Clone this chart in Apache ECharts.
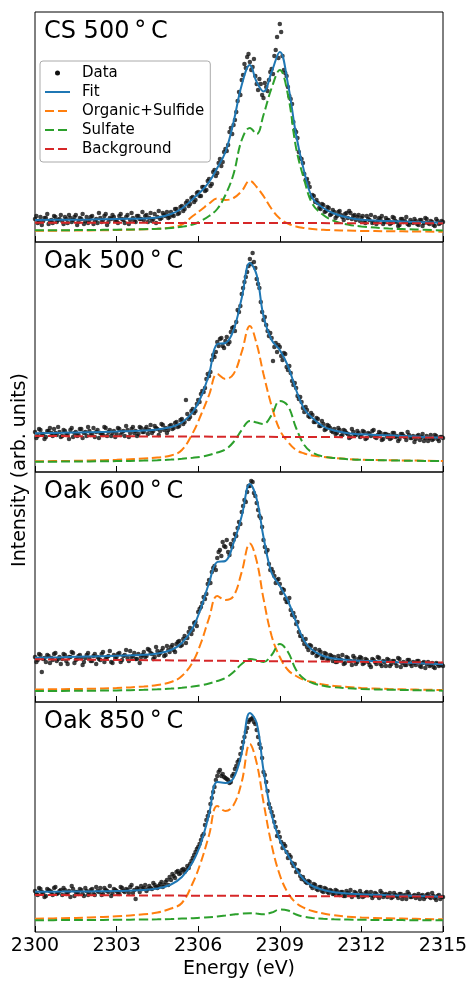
<!DOCTYPE html>
<html>
<head>
<meta charset="utf-8">
<script src="https://cdn.jsdelivr.net/npm/echarts@6/dist/echarts.min.js"></script>
<style>
html, body { margin: 0; padding: 0; background: #fff; }
#chart { width: 468px; height: 981px; }
</style>
</head>
<body>
<div id="chart"></div>
<script>
// x axis
var energyMin = 2300, energyMax = 2315, energyTick = 3;
var panelTitles = ['CS 500\u2009°\u2009C', 'Oak 500\u2009°\u2009C', 'Oak 600\u2009°\u2009C', 'Oak 850\u2009°\u2009C'];

// measured points: one every 0.1 eV from 2300, and the ones in between (from 2300.05)
var scanStart = 2300, scanStep = 0.1, scanStartB = 2300.05;

var data_cs500 = [
	0.23, 0.19, 0.25, 0.21, 0.24, 0.18, 0.22, 0.26, 0.20, 0.23,
	0.21, 0.25, 0.19, 0.24, 0.22, 0.27, 0.20, 0.23, 0.18, 0.25,
	0.22, 0.26, 0.21, 0.19, 0.24, 0.22, 0.28, 0.20, 0.23, 0.25,
	0.21, 0.26, 0.23, 0.19, 0.27, 0.22, 0.24, 0.20, 0.26, 0.23,
	0.22, 0.27, 0.24, 0.21, 0.28, 0.25, 0.23, 0.29, 0.26, 0.24,
	0.30, 0.26, 0.33, 0.29, 0.36, 0.33, 0.41, 0.38, 0.45, 0.42,
	0.50, 0.46, 0.55, 0.52, 0.63, 0.58, 0.72, 0.69, 0.83, 0.80,
	0.93, 0.97, 1.14, 1.17, 1.30, 1.50, 1.62, 1.78, 1.85, 1.80,
	1.75, 1.66, 1.52, 1.58, 1.44, 1.55, 1.62, 1.73, 1.86, 2.05,
	2.18, 1.86, 1.69, 1.55, 1.43, 1.20, 1.10, 0.90, 0.83, 0.68,
	0.63, 0.55, 0.47, 0.40, 0.39, 0.33, 0.37, 0.31, 0.34, 0.28,
	0.30, 0.26, 0.31, 0.25, 0.28, 0.24, 0.29, 0.26, 0.22, 0.27,
	0.24, 0.20, 0.26, 0.22, 0.19, 0.25, 0.21, 0.23, 0.18, 0.24,
	0.22, 0.19, 0.24, 0.20, 0.17, 0.23, 0.21, 0.18, 0.22, 0.19,
	0.21, 0.17, 0.22, 0.19, 0.23, 0.18, 0.20, 0.16, 0.21, 0.19, 0.20
];
var dataB_cs500 = [
	0.26, 0.20, 0.17, 0.24, 0.28, 0.21, 0.19, 0.25, 0.22, 0.27,
	0.18, 0.23, 0.27, 0.20, 0.25, 0.17, 0.24, 0.28, 0.21, 0.19,
	0.25, 0.18, 0.23, 0.29, 0.20, 0.26, 0.17, 0.24, 0.27, 0.21,
	0.19, 0.28, 0.22, 0.25, 0.18, 0.29, 0.21, 0.26, 0.23, 0.30,
	0.26, 0.20, 0.29, 0.23, 0.19, 0.31, 0.24, 0.27, 0.30, 0.25,
	0.27, 0.33, 0.28, 0.35, 0.31, 0.39, 0.36, 0.44, 0.40, 0.49,
	0.46, 0.55, 0.51, 0.61, 0.56, 0.70, 0.66, 0.79, 0.76, 0.90,
	0.91, 1.10, 1.08, 1.22, 1.41, 1.47, 1.67, 1.74, 1.88, 1.72,
	1.83, 1.58, 1.63, 1.47, 1.59, 1.51, 1.70, 1.68, 1.92, 1.84,
	2.10, 1.72, 1.66, 1.46, 1.38, 1.12, 1.04, 0.84, 0.79, 0.62,
	0.59, 0.45, 0.46, 0.42, 0.34, 0.38, 0.30, 0.35, 0.27, 0.32,
	0.24, 0.30, 0.27, 0.22, 0.29, 0.31, 0.23, 0.27, 0.25, 0.21,
	0.26, 0.19, 0.23, 0.27, 0.20, 0.18, 0.24, 0.26, 0.20, 0.22,
	0.18, 0.25, 0.21, 0.16, 0.23, 0.20, 0.25, 0.17, 0.20, 0.23,
	0.18, 0.22, 0.16, 0.24, 0.19, 0.21, 0.17, 0.23, 0.18, 0.21
];
var data_oak500 = [
	0.40, 0.36, 0.42, 0.38, 0.35, 0.41, 0.39, 0.43, 0.37, 0.40,
	0.36, 0.41, 0.38, 0.42, 0.35, 0.40, 0.37, 0.43, 0.39, 0.36,
	0.41, 0.38, 0.35, 0.42, 0.39, 0.37, 0.44, 0.40, 0.36, 0.41,
	0.38, 0.43, 0.40, 0.36, 0.42, 0.39, 0.45, 0.41, 0.38, 0.44,
	0.40, 0.45, 0.42, 0.39, 0.46, 0.43, 0.41, 0.47, 0.44, 0.42,
	0.47, 0.44, 0.50, 0.46, 0.53, 0.50, 0.58, 0.55, 0.63, 0.61,
	0.72, 0.78, 0.80, 0.93, 0.96, 1.12, 1.15, 1.30, 1.33, 1.26,
	1.31, 1.28, 1.40, 1.45, 1.50, 1.60, 1.78, 1.90, 2.00, 2.13,
	2.19, 2.04, 1.88, 1.70, 1.52, 1.47, 1.36, 1.34, 1.25, 1.20,
	1.25, 1.12, 1.18, 1.02, 0.99, 0.87, 0.84, 0.73, 0.70, 0.60,
	0.62, 0.55, 0.57, 0.50, 0.53, 0.46, 0.48, 0.43, 0.46, 0.41,
	0.43, 0.39, 0.42, 0.37, 0.41, 0.38, 0.35, 0.40, 0.37, 0.39,
	0.36, 0.40, 0.34, 0.38, 0.41, 0.35, 0.37, 0.39, 0.33, 0.38,
	0.37, 0.34, 0.39, 0.36, 0.33, 0.38, 0.35, 0.40, 0.34, 0.36,
	0.33, 0.37, 0.35, 0.31, 0.36, 0.34, 0.32, 0.37, 0.33, 0.35, 0.34
];
var dataB_oak500 = [
	0.34, 0.43, 0.38, 0.33, 0.41, 0.44, 0.36, 0.39, 0.45, 0.35,
	0.42, 0.37, 0.33, 0.44, 0.39, 0.36, 0.43, 0.34, 0.40, 0.45,
	0.37, 0.44, 0.40, 0.34, 0.38, 0.45, 0.36, 0.42, 0.39, 0.35,
	0.44, 0.37, 0.41, 0.46, 0.35, 0.43, 0.39, 0.36, 0.45, 0.40,
	0.43, 0.38, 0.47, 0.41, 0.44, 0.37, 0.48, 0.42, 0.39, 0.46,
	0.43, 0.49, 0.45, 0.52, 0.48, 0.72, 0.53, 0.61, 0.59, 0.68,
	0.70, 0.81, 0.84, 0.98, 1.00, 1.17, 1.20, 1.26, 1.34, 1.24,
	1.35, 1.30, 1.44, 1.41, 1.62, 1.66, 1.84, 1.95, 2.06, 2.08,
	2.10, 1.93, 1.84, 1.60, 1.55, 1.41, 1.39, 1.11, 1.29, 1.27,
	1.16, 1.19, 1.05, 1.06, 0.91, 0.89, 0.76, 0.75, 0.64, 0.65,
	0.56, 0.59, 0.50, 0.54, 0.46, 0.51, 0.42, 0.47, 0.44, 0.40,
	0.38, 0.44, 0.36, 0.42, 0.39, 0.34, 0.43, 0.37, 0.41, 0.35,
	0.41, 0.33, 0.39, 0.36, 0.42, 0.34, 0.40, 0.32, 0.38, 0.35,
	0.33, 0.39, 0.35, 0.31, 0.38, 0.36, 0.32, 0.37, 0.34, 0.30,
	0.36, 0.32, 0.38, 0.34, 0.31, 0.37, 0.33, 0.36, 0.31, 0.35
];
var data_oak600 = [
	0.45, 0.42, 0.47, 0.43, 0.40, 0.46, 0.44, 0.48, 0.41, 0.45,
	0.43, 0.47, 0.38, 0.45, 0.49, 0.42, 0.46, 0.44, 0.40, 0.47,
	0.44, 0.41, 0.48, 0.45, 0.42, 0.50, 0.43, 0.46, 0.40, 0.47,
	0.45, 0.49, 0.42, 0.47, 0.44, 0.51, 0.46, 0.43, 0.48, 0.45,
	0.50, 0.46, 0.52, 0.48, 0.45, 0.51, 0.49, 0.54, 0.47, 0.52,
	0.55, 0.52, 0.58, 0.61, 0.57, 0.66, 0.64, 0.74, 0.72, 0.80,
	0.90, 0.95, 1.05, 1.08, 1.22, 1.30, 1.36, 1.44, 1.52, 1.60,
	1.55, 1.50, 1.58, 1.62, 1.66, 1.80, 1.90, 2.02, 2.10, 2.16,
	2.20, 2.06, 1.92, 1.84, 1.62, 1.50, 1.38, 1.33, 1.26, 1.22,
	1.18, 1.13, 1.03, 1.00, 0.92, 0.89, 0.78, 0.70, 0.66, 0.58,
	0.55, 0.57, 0.49, 0.53, 0.47, 0.50, 0.44, 0.48, 0.43, 0.46,
	0.45, 0.40, 0.43, 0.47, 0.39, 0.44, 0.41, 0.46, 0.38, 0.43,
	0.44, 0.39, 0.42, 0.37, 0.43, 0.40, 0.45, 0.38, 0.41, 0.36,
	0.42, 0.38, 0.41, 0.36, 0.43, 0.39, 0.37, 0.42, 0.38, 0.40,
	0.37, 0.41, 0.35, 0.40, 0.38, 0.36, 0.39, 0.34, 0.38, 0.37, 0.36
];
var dataB_oak600 = [
	0.40, 0.48, 0.30, 0.44, 0.47, 0.39, 0.42, 0.49, 0.43, 0.38,
	0.48, 0.41, 0.45, 0.50, 0.39, 0.43, 0.47, 0.37, 0.44, 0.49,
	0.41, 0.46, 0.38, 0.43, 0.48, 0.40, 0.45, 0.51, 0.39, 0.44,
	0.48, 0.40, 0.46, 0.52, 0.41, 0.45, 0.49, 0.43, 0.39, 0.47,
	0.45, 0.53, 0.49, 0.43, 0.55, 0.47, 0.51, 0.46, 0.56, 0.50,
	0.57, 0.50, 0.60, 0.56, 0.63, 0.59, 0.70, 0.68, 0.79, 0.76,
	0.93, 0.99, 1.03, 1.18, 1.19, 1.34, 1.32, 1.50, 1.46, 1.56,
	1.62, 1.47, 1.55, 1.68, 1.74, 1.78, 1.96, 2.00, 2.16, 2.21,
	2.09, 1.99, 1.86, 1.75, 1.55, 1.52, 1.32, 1.30, 1.19, 1.23,
	1.09, 1.12, 1.00, 1.04, 0.87, 0.85, 0.80, 0.66, 0.62, 0.63,
	0.52, 0.56, 0.50, 0.46, 0.52, 0.44, 0.49, 0.42, 0.47, 0.41,
	0.40, 0.46, 0.42, 0.38, 0.45, 0.41, 0.37, 0.44, 0.40, 0.45,
	0.38, 0.43, 0.40, 0.35, 0.42, 0.38, 0.44, 0.36, 0.40, 0.43,
	0.36, 0.41, 0.39, 0.44, 0.35, 0.40, 0.37, 0.42, 0.36, 0.39,
	0.41, 0.36, 0.39, 0.34, 0.40, 0.37, 0.35, 0.39, 0.36, 0.38
];
var data_oak850 = [
	0.41, 0.37, 0.43, 0.39, 0.36, 0.42, 0.40, 0.44, 0.38, 0.41,
	0.37, 0.42, 0.39, 0.35, 0.43, 0.40, 0.38, 0.42, 0.36, 0.41,
	0.39, 0.43, 0.37, 0.41, 0.44, 0.38, 0.42, 0.40, 0.36, 0.43,
	0.41, 0.38, 0.44, 0.40, 0.42, 0.45, 0.39, 0.33, 0.43, 0.46,
	0.44, 0.41, 0.46, 0.43, 0.47, 0.44, 0.48, 0.45, 0.50, 0.47,
	0.52, 0.56, 0.60, 0.58, 0.62, 0.60, 0.66, 0.68, 0.74, 0.80,
	0.85, 0.92, 0.98, 1.12, 1.20, 1.34, 1.45, 1.56, 1.62, 1.58,
	1.54, 1.52, 1.50, 1.58, 1.66, 1.72, 1.84, 1.95, 2.04, 2.12,
	2.14, 2.08, 1.95, 1.84, 1.60, 1.50, 1.28, 1.20, 1.10, 0.96,
	0.95, 0.84, 0.86, 0.74, 0.75, 0.66, 0.60, 0.61, 0.53, 0.52,
	0.49, 0.50, 0.44, 0.47, 0.42, 0.45, 0.40, 0.43, 0.39, 0.41,
	0.38, 0.41, 0.37, 0.40, 0.36, 0.39, 0.42, 0.37, 0.39, 0.35,
	0.38, 0.36, 0.40, 0.37, 0.34, 0.39, 0.36, 0.41, 0.35, 0.38,
	0.37, 0.34, 0.39, 0.36, 0.38, 0.33, 0.37, 0.40, 0.35, 0.36,
	0.34, 0.38, 0.36, 0.33, 0.37, 0.35, 0.39, 0.34, 0.36, 0.33, 0.35
];
var dataB_oak850 = [
	0.38, 0.44, 0.40, 0.35, 0.43, 0.41, 0.37, 0.45, 0.39, 0.42,
	0.44, 0.38, 0.41, 0.46, 0.36, 0.40, 0.43, 0.38, 0.44, 0.37,
	0.42, 0.38, 0.45, 0.40, 0.37, 0.44, 0.41, 0.46, 0.39, 0.42,
	0.38, 0.45, 0.41, 0.43, 0.39, 0.47, 0.42, 0.44, 0.40, 0.43,
	0.47, 0.43, 0.44, 0.49, 0.45, 0.46, 0.50, 0.47, 0.52, 0.55,
	0.58, 0.54, 0.61, 0.59, 0.63, 0.62, 0.64, 0.71, 0.77, 0.83,
	0.88, 0.96, 1.07, 1.16, 1.28, 1.40, 1.52, 1.60, 1.56, 1.55,
	1.53, 1.49, 1.56, 1.63, 1.70, 1.78, 1.90, 2.00, 2.10, 2.13,
	2.10, 2.02, 1.88, 1.74, 1.57, 1.41, 1.24, 1.16, 1.05, 1.00,
	0.90, 0.88, 0.80, 0.77, 0.69, 0.68, 0.62, 0.56, 0.55, 0.50,
	0.51, 0.46, 0.48, 0.43, 0.45, 0.41, 0.44, 0.40, 0.42, 0.38,
	0.42, 0.38, 0.40, 0.36, 0.41, 0.38, 0.35, 0.40, 0.37, 0.41,
	0.35, 0.39, 0.37, 0.40, 0.36, 0.38, 0.34, 0.39, 0.37, 0.35,
	0.39, 0.35, 0.37, 0.34, 0.38, 0.36, 0.33, 0.38, 0.35, 0.37,
	0.36, 0.33, 0.37, 0.35, 0.38, 0.34, 0.36, 0.32, 0.37, 0.35
];

// fitted curves, sampled at these energies
var curveE = [2300, 2301, 2302, 2303, 2304, 2304.5, 2305, 2305.4, 2305.8, 2306.1, 2306.4, 2306.7,
	2307.0, 2307.3, 2307.6, 2307.9, 2308.15, 2308.4, 2308.7, 2309.0, 2309.3, 2309.6, 2309.9,
	2310.2, 2310.6, 2311, 2311.5, 2312, 2313, 2314, 2315];
var bgE = [2300, 2315];

var fit_cs500 = [0.22, 0.222, 0.225, 0.23, 0.235, 0.245, 0.28, 0.335, 0.43, 0.505, 0.60, 0.74, 0.90, 1.20, 1.57, 1.77,
	1.60, 1.505, 1.70, 1.90, 1.58, 1.07, 0.70, 0.44, 0.34, 0.285, 0.245, 0.222, 0.21, 0.20, 0.193];
var org_cs500 = [0.113, 0.114, 0.116, 0.12, 0.127, 0.133, 0.145, 0.175, 0.26, 0.32, 0.385, 0.435, 0.42, 0.44, 0.51, 0.613,
	0.55, 0.46, 0.33, 0.235, 0.185, 0.155, 0.14, 0.13, 0.122, 0.118, 0.114, 0.111, 0.108, 0.105, 0.103];
var sulf_cs500 = [0.117, 0.118, 0.12, 0.123, 0.128, 0.132, 0.14, 0.152, 0.175, 0.21, 0.26, 0.33, 0.47, 0.68, 1.02, 1.14,
	1.08, 1.27, 1.54, 1.72, 1.47, 0.94, 0.62, 0.38, 0.27, 0.21, 0.175, 0.155, 0.135, 0.125, 0.115];
var bg_cs500 = [0.193, 0.187];

var fit_oak500 = [0.387, 0.392, 0.398, 0.405, 0.415, 0.425, 0.45, 0.495, 0.60, 0.75, 0.98, 1.28, 1.29, 1.42, 1.74, 2.09,
	1.97, 1.56, 1.32, 1.22, 1.06, 0.82, 0.63, 0.54, 0.455, 0.415, 0.387, 0.377, 0.367, 0.355, 0.343];
var org_oak500 = [0.107, 0.11, 0.115, 0.122, 0.135, 0.145, 0.165, 0.22, 0.39, 0.57, 0.77, 0.98, 0.93, 0.98, 1.20, 1.46,
	1.28, 0.98, 0.66, 0.42, 0.30, 0.22, 0.185, 0.165, 0.15, 0.14, 0.13, 0.124, 0.118, 0.114, 0.11];
var sulf_oak500 = [0.103, 0.104, 0.106, 0.109, 0.114, 0.118, 0.124, 0.132, 0.142, 0.152, 0.17, 0.195, 0.225, 0.30, 0.42, 0.51,
	0.495, 0.48, 0.57, 0.71, 0.66, 0.44, 0.27, 0.195, 0.155, 0.14, 0.128, 0.122, 0.116, 0.112, 0.11];
var bg_oak500 = [0.36, 0.345];

var fit_oak600 = [0.443, 0.448, 0.455, 0.462, 0.472, 0.485, 0.52, 0.59, 0.74, 0.94, 1.19, 1.40, 1.41, 1.59, 1.86, 2.18,
	2.03, 1.65, 1.29, 1.16, 1.01, 0.80, 0.61, 0.52, 0.46, 0.435, 0.42, 0.412, 0.402, 0.39, 0.377];
var org_oak600 = [0.125, 0.128, 0.132, 0.14, 0.155, 0.17, 0.20, 0.26, 0.40, 0.59, 0.84, 1.06, 1.02, 1.06, 1.30, 1.585,
	1.41, 1.035, 0.66, 0.45, 0.32, 0.26, 0.22, 0.20, 0.175, 0.16, 0.15, 0.14, 0.13, 0.124, 0.12];
var sulf_oak600 = [0.11, 0.111, 0.113, 0.116, 0.122, 0.127, 0.134, 0.142, 0.154, 0.167, 0.185, 0.21, 0.24, 0.30, 0.38, 0.43,
	0.42, 0.40, 0.47, 0.58, 0.50, 0.32, 0.23, 0.19, 0.162, 0.147, 0.137, 0.13, 0.123, 0.118, 0.113];
var bg_oak600 = [0.427, 0.395];

var fit_oak850 = [0.403, 0.404, 0.406, 0.41, 0.42, 0.435, 0.475, 0.55, 0.70, 0.89, 1.18, 1.50, 1.49, 1.54, 1.79, 2.19,
	2.09, 1.62, 1.17, 0.92, 0.77, 0.63, 0.52, 0.46, 0.42, 0.397, 0.385, 0.378, 0.368, 0.36, 0.353];
var org_oak850 = [0.133, 0.138, 0.145, 0.157, 0.177, 0.195, 0.235, 0.29, 0.49, 0.70, 0.97, 1.26, 1.21, 1.27, 1.50, 1.88,
	1.69, 1.30, 0.87, 0.57, 0.39, 0.29, 0.24, 0.21, 0.185, 0.167, 0.153, 0.145, 0.137, 0.132, 0.127];
var sulf_oak850 = [0.118, 0.119, 0.12, 0.122, 0.125, 0.127, 0.13, 0.134, 0.138, 0.142, 0.148, 0.155, 0.164, 0.175, 0.184, 0.188,
	0.184, 0.178, 0.195, 0.225, 0.215, 0.175, 0.152, 0.14, 0.132, 0.127, 0.124, 0.122, 0.12, 0.118, 0.117];
var bg_oak850 = [0.37, 0.353];

var panels = [
	{ data: data_cs500, dataB: dataB_cs500, fit: fit_cs500, org: org_cs500, sulf: sulf_cs500, bg: bg_cs500 },
	{ data: data_oak500, dataB: dataB_oak500, fit: fit_oak500, org: org_oak500, sulf: sulf_oak500, bg: bg_oak500 },
	{ data: data_oak600, dataB: dataB_oak600, fit: fit_oak600, org: org_oak600, sulf: sulf_oak600, bg: bg_oak600 },
	{ data: data_oak850, dataB: dataB_oak850, fit: fit_oak850, org: org_oak850, sulf: sulf_oak850, bg: bg_oak850 }
];

var font = 'DejaVu Sans';
var gridTop = [12, 242, 472, 702];
var dash = [9, 4];

function pairs(xs, ys) {
	return ys.map(function(v, i) { return [xs[i], v]; });
}
function scanPoints(ys, start) {
	return ys.map(function(v, i) { return [+(start + i * scanStep).toFixed(2), v]; });
}

var chart = echarts.init(document.getElementById('chart'));

var grids = [], xAxes = [], yAxes = [], series = [], titles = [];
panels.forEach(function(p, i) {
	grids.push({
		left: 35, right: 25, top: gridTop[i], height: 230, show: true,
		borderColor: '#000', borderWidth: 1, outerBoundsMode: 'none', containLabel: false
	});
	xAxes.push({
		type: 'value', gridIndex: i, min: energyMin, max: energyMax, interval: energyTick,
		axisLine: { show: false },
		axisTick: { show: true, inside: true, length: 6, lineStyle: { color: '#000', width: 1 } },
		axisLabel: {
			show: i == 3, fontSize: 19, color: '#000', margin: 5, fontFamily: font,
			formatter: function(v) { return String(v); }
		},
		splitLine: { show: false },
		name: i == 3 ? 'Energy (eV)' : '',
		nameLocation: 'middle', nameGap: 28,
		nameTextStyle: { fontSize: 19, color: '#000', fontFamily: font }
	});
	yAxes.push({ type: 'value', gridIndex: i, min: 0, max: 2.3, show: false });
	titles.push({
		text: panelTitles[i], left: 44, top: gridTop[i] + 8, padding: 0,
		textStyle: { fontSize: 24, fontWeight: 'normal', color: '#000', fontFamily: font }
	});

	series.push({
		name: 'Data', type: 'scatter', xAxisIndex: i, yAxisIndex: i,
		data: scanPoints(p.data, scanStart).concat(scanPoints(p.dataB, scanStartB)),
		symbolSize: 4.5, itemStyle: { color: '#111' }, z: 2
	});
	series.push({
		name: 'Fit', type: 'line', xAxisIndex: i, yAxisIndex: i, data: pairs(curveE, p.fit),
		smooth: 0.4, symbol: 'none', lineStyle: { color: '#1f77b4', width: 2 }, itemStyle: { color: '#1f77b4' }, z: 3
	});
	series.push({
		name: 'Organic+Sulfide', type: 'line', xAxisIndex: i, yAxisIndex: i, data: pairs(curveE, p.org),
		smooth: 0.4, symbol: 'none', lineStyle: { color: '#ff7f0e', width: 2, type: dash }, itemStyle: { color: '#ff7f0e' }, z: 4
	});
	series.push({
		name: 'Sulfate', type: 'line', xAxisIndex: i, yAxisIndex: i, data: pairs(curveE, p.sulf),
		smooth: 0.4, symbol: 'none', lineStyle: { color: '#2ca02c', width: 2, type: dash }, itemStyle: { color: '#2ca02c' }, z: 5
	});
	series.push({
		name: 'Background', type: 'line', xAxisIndex: i, yAxisIndex: i, data: pairs(bgE, p.bg),
		symbol: 'none', lineStyle: { color: '#d62728', width: 2, type: dash }, itemStyle: { color: '#d62728' }, z: 6
	});
});

chart.setOption({
	animation: false,
	backgroundColor: '#fff',
	textStyle: { fontFamily: font },
	title: titles,
	grid: grids,
	xAxis: xAxes,
	yAxis: yAxes,
	legend: {
		orient: 'vertical', left: 40, top: 61, padding: [3, 6, 4, 4], itemGap: 1,
		itemWidth: 25, itemHeight: 5, selectedMode: false,
		backgroundColor: 'rgba(255,255,255,0.8)', borderColor: '#aaa', borderWidth: 1, borderRadius: 3,
		textStyle: { fontSize: 15, color: '#000', lineHeight: 18, padding: [0, 0, 0, 7], fontFamily: font },
		itemStyle: { opacity: 0 },
		data: [{ name: 'Data', itemStyle: { opacity: 1 } }, 'Fit', 'Organic+Sulfide', 'Sulfate', 'Background']
	},
	graphic: [{
		type: 'text', x: 20, y: 470, rotation: Math.PI / 2,
		style: { text: 'Intensity (arb. units)', fontSize: 19, fill: '#000', fontFamily: font, align: 'center', verticalAlign: 'middle' }
	}],
	series: series
});
</script>
</body>
</html>
